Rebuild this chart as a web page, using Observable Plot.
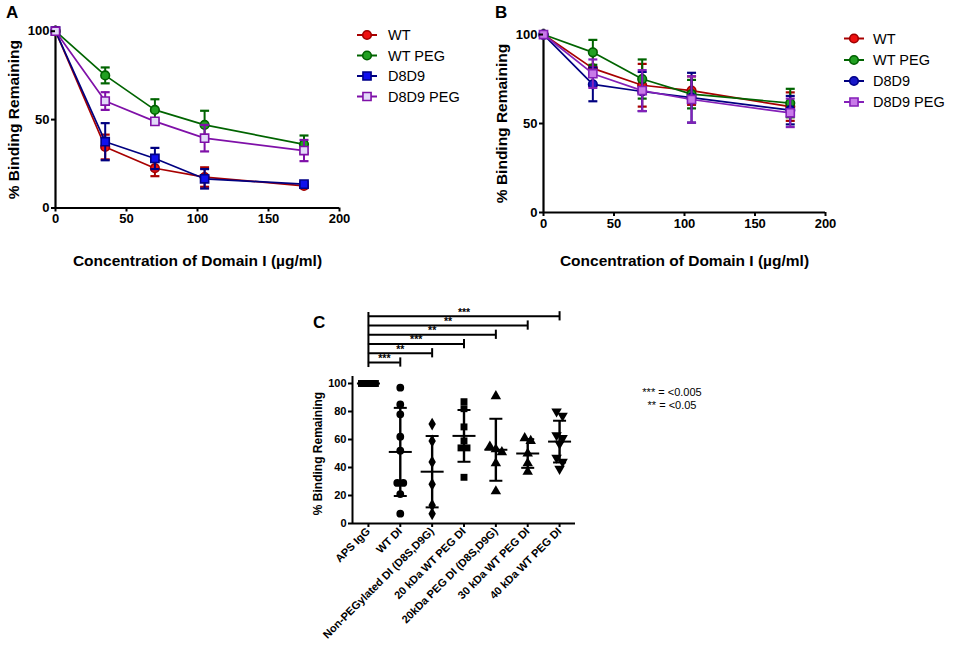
<!DOCTYPE html>
<html><head><meta charset="utf-8">
<script src="https://cdn.jsdelivr.net/npm/d3@7"></script>
<script src="https://cdn.jsdelivr.net/npm/@observablehq/plot@0.6"></script>
<style>
body{margin:0;background:#fff;font-family:"Liberation Sans",Arial,sans-serif;}
#wrap{position:relative;width:957px;height:651px;overflow:hidden;background:#fff;}
.abs{position:absolute;}
</style></head><body><div id="wrap"></div>
<script>
// ---------- Data: panels A and B ----------
const conc = [0, 35, 70, 105, 175];
const seriesNames = ["WT", "WT PEG", "D8D9", "D8D9 PEG"];
const aWT = [100, 34.5, 22.5, 17.5, 12.5];
const aWTErr = [0, 7, 4.5, 5.5, 1.2];
const aWTPEG = [100, 75, 55.5, 47, 36];
const aWTPEGErr = [0, 4.5, 6, 8, 5];
const aD8D9 = [100, 37.5, 28, 16.5, 13.5];
const aD8D9Err = [0, 10.5, 6, 5.5, 1.2];
const aD8D9PEG = [100, 60.5, 49, 39.5, 32.5];
const aD8D9PEGErr = [0, 5, 1.5, 7.5, 6];

const bWT = [100, 81, 71.5, 68.5, 59.5];
const bWTErr = [0, 10, 12, 8, 8];
const bWTPEG = [100, 90, 75, 66.5, 61.5];
const bWTPEGErr = [0, 7, 11, 8, 8];
const bD8D9 = [100, 72, 68, 64.5, 57.5];
const bD8D9Err = [0, 9.5, 11, 14, 8];
const bD8D9PEG = [100, 78, 68.5, 63.5, 56];
const bD8D9PEGErr = [0, 8, 11.5, 13, 8];
const xTicks = [0, 50, 100, 150, 200];
const yTicksAB = [0, 50, 100];

// ---------- Data: panel C ----------
const groups = ["APS IgG", "WT DI", "Non-PEGylated DI (D8S,D9G)", "20 kDa WT PEG DI", "20kDa PEG DI (D8S,D9G)", "30 kDa WT PEG DI", "40 kDa WT PEG DI"];
const cAPS = [100, 100, 100, 100, 100, 100, 100, 100];
const cWTDI = [97, 85, 78, 62, 52, 29, 29, 21, 7];
const cNonPEG = [71, 59, 44, 28, 13, 7];
const c20WT = [87, 82, 69, 59, 54, 54, 33];
const c20D8S = [91, 55, 53, 51, 43, 23];
const c30WT = [61, 59, 50, 43, 37];
const c40WT = [80, 77, 63, 61, 57, 47, 44, 39];
const cValues = [cAPS, cWTDI, cNonPEG, c20WT, c20D8S, c30WT, c40WT];
const cTicks = [0, 20, 40, 60, 80, 100];
const sigTarget = [1, 2, 3, 4, 5, 6];
const sigLabel = ["***", "**", "***", "**", "**", "***"];
const keyLines = ["*** = <0.005", "** = <0.05"];

// ---------- helpers ----------
const FONT = "Liberation Sans, Arial, sans-serif";
const cap = {draw(ctx, size){ const h = Math.sqrt(size / Math.PI); ctx.moveTo(-h, 0); ctx.lineTo(h, 0); }};
const wrap = document.getElementById("wrap");
function place(node, left, top){ const d = document.createElement("div"); d.className = "abs"; d.style.left = left + "px"; d.style.top = top + "px"; d.appendChild(node); wrap.appendChild(d); }

function curvePanel(series, cfg){
  const marks = [
    Plot.ruleY([0], {x1: 0, x2: 200, stroke: "black", strokeWidth: 2.2}),
    Plot.ruleX([0], {y1: 0, y2: 103, stroke: "black", strokeWidth: 2.2})
  ];
  series.forEach(s => {
    const rows = conc.map((c, i) => ({x: c, y: s.vals[i], e: s.err[i]}));
    const er = rows.filter(r => r.e > 0);
    marks.push(Plot.line(rows, {x: "x", y: "y", stroke: s.line, strokeWidth: 1.7}));
    marks.push(Plot.ruleX(er, {x: "x", y1: d => d.y - d.e, y2: d => d.y + d.e, stroke: s.line, strokeWidth: 2}));
    marks.push(Plot.dot(er, {x: "x", y: d => d.y + d.e, symbol: cap, r: 4.5, fill: "none", stroke: s.line, strokeWidth: 2.2}));
    marks.push(Plot.dot(er, {x: "x", y: d => d.y - d.e, symbol: cap, r: 4.5, fill: "none", stroke: s.line, strokeWidth: 2.2}));
    marks.push(Plot.dot(rows, {x: "x", y: "y", symbol: s.symbol, r: s.symbol === "square" ? 4.6 : 4.3, fill: s.fill, stroke: s.stroke, strokeWidth: 1.6}));
  });
  marks.push(Plot.axisX({ticks: xTicks, tickSize: 4, tickPadding: 2, fontSize: 13, fontWeight: "bold", strokeWidth: 2, label: null}));
  marks.push(Plot.axisY({ticks: yTicksAB, tickSize: 4, tickPadding: 2, fontSize: 13, fontWeight: "bold", strokeWidth: 2, label: null}));
  marks.push(Plot.text(["% Binding Remaining"], {y: () => 50, text: d => d, frameAnchor: "left", textAnchor: "middle", dx: cfg.ylabDx, rotate: -90, fontSize: 15.5, fontWeight: "bold"}));
  marks.push(Plot.text(["Concentration of Domain I (µg/ml)"], {text: d => d, frameAnchor: "bottom", dy: cfg.xlabDy, fontSize: 15.5, fontWeight: "bold"}));
  return Plot.plot({
    width: cfg.width, height: cfg.height,
    marginLeft: cfg.ml, marginRight: cfg.mr, marginTop: cfg.mt, marginBottom: cfg.mb,
    x: {domain: [0, 200]}, y: {domain: [0, 103]},
    style: {fontFamily: FONT, color: "black", background: "transparent", overflow: "visible"},
    marks
  });
}

const seriesA = [
  {name: seriesNames[0], vals: aWT, err: aWTErr, line: "#a80000", fill: "#ee1111", stroke: "#a00000", symbol: "circle"},
  {name: seriesNames[1], vals: aWTPEG, err: aWTPEGErr, line: "#006400", fill: "#22a022", stroke: "#006000", symbol: "circle"},
  {name: seriesNames[2], vals: aD8D9, err: aD8D9Err, line: "#000080", fill: "#1010ee", stroke: "#000088", symbol: "square"},
  {name: seriesNames[3], vals: aD8D9PEG, err: aD8D9PEGErr, line: "#7f10a8", fill: "#e2daf8", stroke: "#7f10a8", symbol: "square"}
];
const seriesB = [
  {name: seriesNames[0], vals: bWT, err: bWTErr, line: "#a80000", fill: "#ee1111", stroke: "#a00000", symbol: "circle"},
  {name: seriesNames[1], vals: bWTPEG, err: bWTPEGErr, line: "#006400", fill: "#22a022", stroke: "#006000", symbol: "circle"},
  {name: seriesNames[2], vals: bD8D9, err: bD8D9Err, line: "#000080", fill: "#1818c8", stroke: "#000088", symbol: "circle"},
  {name: seriesNames[3], vals: bD8D9PEG, err: bD8D9PEGErr, line: "#8420b8", fill: "#c87ae8", stroke: "#8420b8", symbol: "square"}
];

place(curvePanel(seriesA, {width: 450, height: 280, ml: 55, mr: 111, mt: 25.4, mb: 72.5, ylabDx: -41, xlabDy: 58}), 0, 0);
place(curvePanel(seriesB, {width: 487, height: 280, ml: 73, mr: 132, mt: 28.7, mb: 68, ylabDx: -41, xlabDy: 53}), 470, 0);

// ---------- Panel C ----------
const stepPx = 223 / 7;
const points = [];
cValues.forEach((vals, gi) => {
  const sorted = vals.slice().sort((a, b) => b - a);
  let i = 0;
  while (i < sorted.length) {
    let j = i;
    while (j + 1 < sorted.length && sorted[j] - sorted[j + 1] < 3.5) j++;
    const k = j - i + 1;
    const s = k > 1 ? Math.min(6, 14 / (k - 1)) : 0;
    for (let t = i; t <= j; t++) points.push({g: gi, v: sorted[t], x: gi + ((t - i) - (k - 1) / 2) * s / stepPx});
    i = j + 1;
  }
});
const stats = cValues.map((vals, gi) => ({g: gi, m: d3.mean(vals), sd: d3.deviation(vals) || 0}));
const sig = sigTarget.map((t, i) => ({t, label: sigLabel[i], level: 115 + i * 6.6}));
const symbolOf = ["square", "circle", "diamond", "square", "triangle", "triangle", "triangle"];

const cPlot = Plot.plot({
  width: 400, height: 361,
  marginLeft: 102, marginRight: 75, marginTop: 20, marginBottom: 128,
  x: {domain: [-0.5, 6.5]}, y: {domain: [0, 233 / 1.4 - 20 / 1.4]},
  style: {fontFamily: FONT, color: "black", background: "transparent", overflow: "visible"},
  marks: [
    Plot.ruleY([0], {x1: -0.5, x2: 6.5, stroke: "black", strokeWidth: 2}),
    Plot.ruleX([-0.5], {y1: 0, y2: 105, stroke: "black", strokeWidth: 2}),
    // significance brackets
    Plot.ruleX([0], {y1: sig[0].level - 3.6, y2: sig[sig.length - 1].level + 2.7, stroke: "black", strokeWidth: 2}),
    Plot.ruleY(sig, {x1: 0, x2: "t", y: "level", stroke: "black", strokeWidth: 2}),
    Plot.ruleX(sig, {x: "t", y1: d => d.level - 3.3, y2: d => d.level + 3.3, stroke: "black", strokeWidth: 2}),
    Plot.text(sig, {x: d => d.t / 2, y: "level", text: "label", dy: -4, fontSize: 10.5, fontWeight: "bold", fill: "black"}),
    // data points
    Plot.dot(points.filter(p => p.g < 6), {x: "x", y: "v", symbol: d => symbolOf[d.g], r: 3.9, fill: "black", stroke: "none"}),
    Plot.dot(points.filter(p => p.g === 6), {x: "x", y: "v", symbol: "triangle", rotate: 180, r: 3.9, fill: "black", stroke: "none"}),
    // mean +/- SD
    Plot.ruleX(stats, {x: "g", y1: d => d.m - d.sd, y2: d => d.m + d.sd, stroke: "black", strokeWidth: 2.4}),
    Plot.dot(stats, {x: "g", y: "m", symbol: cap, r: 11.5, fill: "none", stroke: "black", strokeWidth: 2}),
    Plot.dot(stats, {x: "g", y: d => d.m + d.sd, symbol: cap, r: 6.5, fill: "none", stroke: "black", strokeWidth: 2}),
    Plot.dot(stats, {x: "g", y: d => d.m - d.sd, symbol: cap, r: 6.5, fill: "none", stroke: "black", strokeWidth: 2}),
    Plot.axisY({ticks: cTicks, tickSize: 4, tickPadding: 2, fontSize: 11, fontWeight: "bold", strokeWidth: 2, label: null}),
    Plot.axisX({ticks: d3.range(groups.length), tickFormat: i => groups[i], tickRotate: -45, tickSize: 4, tickPadding: 2, fontSize: 11, fontWeight: "bold", strokeWidth: 2, label: null}),
    Plot.text(["% Binding Remaining"], {y: () => 50, text: d => d, frameAnchor: "left", textAnchor: "middle", dx: -34, rotate: -90, fontSize: 12, fontWeight: "bold"})
  ]
});
place(cPlot, 250, 290);

// ---------- overlay: panel letters, legends, key ----------
const ov = d3.select(wrap).append("svg").attr("class", "abs").attr("width", 957).attr("height", 651)
  .style("left", "0px").style("top", "0px").style("font-family", FONT).style("pointer-events", "none");
[["A", 6, 18], ["B", 495, 18], ["C", 313, 328]].forEach(([t, x, y]) =>
  ov.append("text").attr("x", x).attr("y", y).attr("font-size", 17).attr("font-weight", "bold").text(t));

function legend(series, cx, ys, tx){
  series.forEach((s, i) => {
    const g = ov.append("g").attr("transform", `translate(${cx},${ys[i]})`);
    g.append("line").attr("x1", -10).attr("x2", 10).attr("stroke", s.line).attr("stroke-width", 2);
    const sym = s.symbol === "square" ? d3.symbolSquare : d3.symbolCircle;
    g.append("path").attr("d", d3.symbol(sym, s.symbol === "square" ? 66 : 58)()).attr("fill", s.fill).attr("stroke", s.stroke).attr("stroke-width", 1.6);
    ov.append("text").attr("x", tx).attr("y", ys[i]).attr("dy", "0.35em").attr("font-size", 14.5).text(s.name);
  });
}
legend(seriesA, 367, [35, 55.5, 76, 96.5], 388);
legend(seriesB, 854, [38.5, 60, 81, 102], 873);
keyLines.forEach((t, i) => ov.append("text").attr("x", 672).attr("y", 392 + i * 13).attr("dy", "0.35em")
  .attr("text-anchor", "middle").attr("font-size", 11).text(t));
</script></body></html>
